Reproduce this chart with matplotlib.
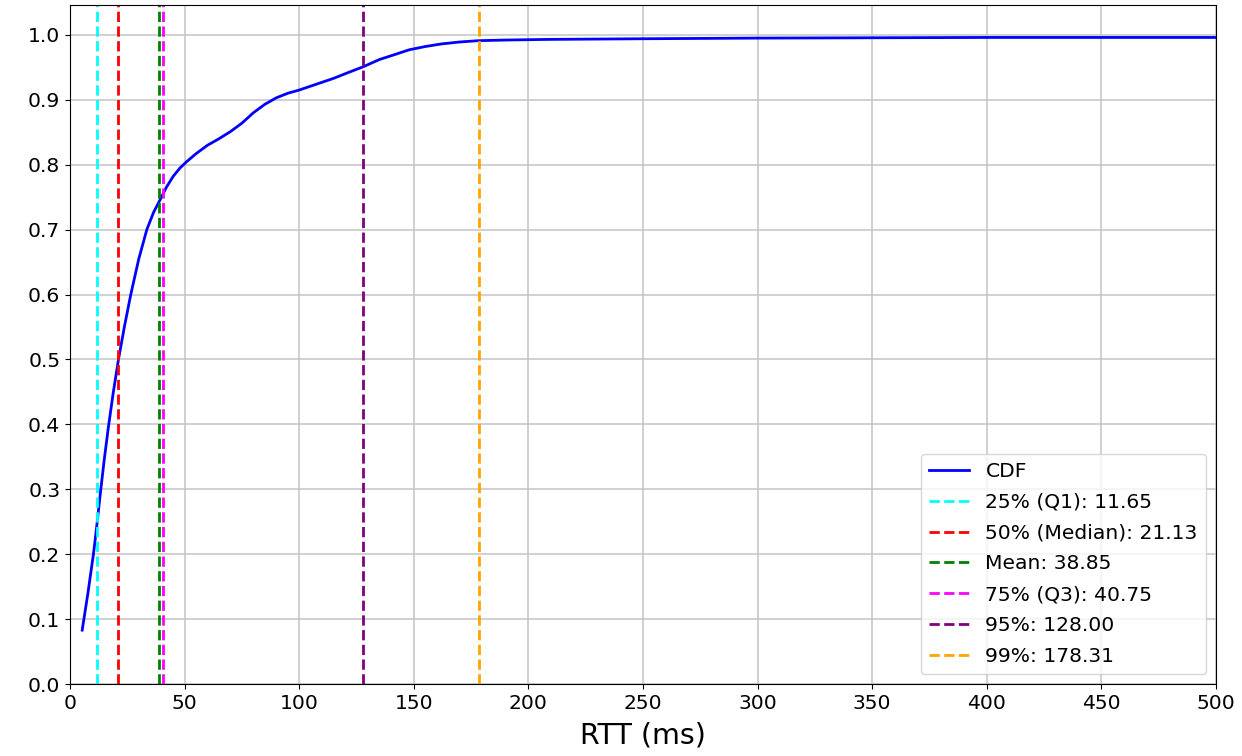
#!/usr/bin/env python

import numpy as np
import matplotlib.pyplot as plt

# CDF of RTT
rtt = [5.3, 7.8, 10.2, 11.65, 13.1, 14.9, 16.7, 18.9, 21.13, 23.8, 26.5, 30.0, 33.5, 36.5, 39.3, 42.0, 45.0,
       48.0, 51.0, 55.0, 60.0, 65.0, 70.0, 75.0, 80.0, 85.0, 90.0, 95.0, 100.0, 105.0, 110.0, 115.0,
       120.0, 128.0, 135.0, 142.0, 148.0, 155.0, 162.0, 170.0, 178.0, 190.0, 209.0, 250.0, 300.0,
       400.0, 500.0]
cdf = [0.083, 0.14, 0.20, 0.243, 0.29, 0.345, 0.395, 0.45, 0.50, 0.552, 0.60, 0.655, 0.70, 0.727, 0.746, 0.765, 0.782,
       0.795, 0.805, 0.817, 0.830, 0.840, 0.851, 0.864, 0.880, 0.893, 0.903, 0.910, 0.915, 0.921, 0.927, 0.933,
       0.940, 0.951, 0.962, 0.970, 0.977, 0.982, 0.986, 0.989, 0.991, 0.992, 0.993, 0.994, 0.995,
       0.996, 0.996]

stat_labels = ['25% (Q1)', '50% (Median)', 'Mean', '75% (Q3)', '95%', '99%']
stat_values = [11.65, 21.13, 38.85, 40.75, 128.00, 178.31]
stat_colors = ['cyan', 'red', 'green', 'magenta', 'purple', 'orange']

plt.rcParams['font.size'] = 14.6

fig = plt.figure(figsize=(12.42, 7.56), dpi=100)
ax = fig.add_axes([0.0564, 0.0952, 0.9226, 0.8982])

ax.plot(rtt, cdf, color='blue', lw=2, label='CDF')
for lab, v, c in zip(stat_labels, stat_values, stat_colors):
  ax.axvline(v, color=c, ls='--', lw=2, label='%s: %.2f' % (lab, v))

ax.set_xlim(0, 500)
ax.set_ylim(0, 1.046)
ax.set_xticks(np.arange(0, 501, 50))
ax.set_yticks(np.arange(0, 1.01, 0.1))
ax.set_xlabel('RTT (ms)', fontsize=20.5, labelpad=6)
ax.grid(True, lw=1.1, color='#c4c4c4')
ax.legend(loc='lower right', labelspacing=0.58)

plt.savefig('out.png', dpi=100)
